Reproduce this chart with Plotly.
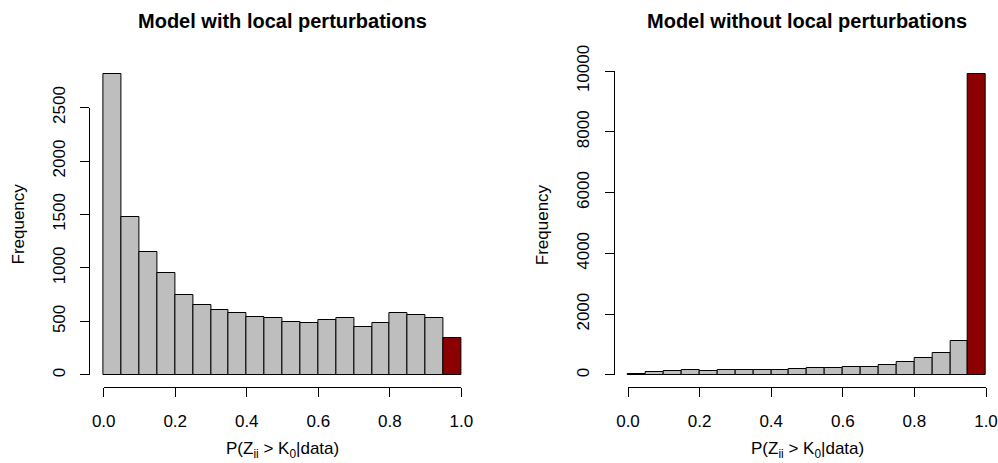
import plotly.graph_objects as go

# ---- data ----
bin_edges = [i * 0.05 for i in range(21)]
counts_with = [2813, 1477, 1150, 956, 745, 651, 607, 582, 545, 536,
               498, 483, 514, 533, 451, 489, 582, 558, 530, 349]
counts_without = [25, 108, 132, 155, 132, 155, 155, 155, 155, 187,
                  220, 220, 253, 274, 318, 428, 570, 724, 1118, 9901]
x_ticks = [0.0, 0.2, 0.4, 0.6, 0.8, 1.0]
y_ticks_with = [0, 500, 1000, 1500, 2000, 2500]
y_ticks_without = [0, 2000, 4000, 6000, 8000, 10000]
titles = ["Model with local perturbations", "Model without local perturbations"]
xlabel = "P(Z<sub>ii</sub> &gt; K<sub>0</sub>|data)"
ylabel = "Frequency"

# ---- layout geometry (pixels) ----
W, H = 998, 463
FONT = "Liberation Sans, Arial, Helvetica, sans-serif"
GRAY = "#BEBEBE"
RED = "#8B0000"
TICK_SIZE = 17
TITLE_SIZE = 20

panels = [
    dict(counts=counts_with, yticks=y_ticks_with, px0=103.7, px1=461.3, ylab_x=18, title=titles[0]),
    dict(counts=counts_without, yticks=y_ticks_without, px0=628.0, px1=986.0, ylab_x=542.7, title=titles[1]),
]
TOP, BOT = 62.0, 387.0


def fx(p):
    return p / W


def fy(p):
    return 1 - p / H


fig = go.Figure()
layout = dict(
    width=W, height=H, margin=dict(l=0, r=0, t=0, b=0, pad=0, autoexpand=False),
    paper_bgcolor="white", plot_bgcolor="rgba(0,0,0,0)",
    showlegend=False, bargap=0,
    font=dict(family=FONT, size=TICK_SIZE, color="black"),
    annotations=[],
)

centers = [(bin_edges[i] + bin_edges[i + 1]) / 2 for i in range(len(bin_edges) - 1)]
widths = [bin_edges[i + 1] - bin_edges[i] for i in range(len(bin_edges) - 1)]

for k, p in enumerate(panels):
    n = k + 1
    dax = "" if n == 1 else str(n)
    sax = str(n + 2)
    counts = p["counts"]
    colors = [GRAY] * (len(counts) - 1) + [RED]

    fig.add_trace(go.Bar(
        x=centers, y=counts, width=widths,
        marker=dict(color=colors, line=dict(color="black", width=1)),
        xaxis="x" + dax, yaxis="y" + dax, hoverinfo="x+y",
    ))
    # invisible trace to host the R-style detached axes
    fig.add_trace(go.Scatter(x=[None], y=[None], mode="markers",
                             xaxis="x" + sax, yaxis="y" + sax, hoverinfo="skip"))

    scale = p["px1"] - p["px0"]
    L = p["px0"] - 0.04 * scale
    R = min(p["px1"] + 0.04 * scale, W)
    xr = [(L - p["px0"]) / scale, (R - p["px0"]) / scale]
    ymax = max(counts)
    ylo, yhi = -0.04 * ymax, 1.04 * ymax

    def ypix(v):
        return BOT - (v - ylo) / (yhi - ylo) * (BOT - TOP)

    hidden = dict(visible=False, showticklabels=False, fixedrange=True, automargin=False)
    layout["xaxis" + dax] = dict(domain=[fx(L), fx(R)], range=xr, anchor="y" + dax, **hidden)
    layout["yaxis" + dax] = dict(domain=[fy(BOT), fy(TOP)], range=[ylo, yhi], anchor="x" + dax, **hidden)

    # detached axes (R base-graphics style)
    layout["xaxis" + sax] = dict(
        domain=[fx(p["px0"]), fx(p["px1"])], range=[x_ticks[0], x_ticks[-1]],
        anchor="free", position=fy(BOT - 0.3),
        showline=True, linecolor="black", linewidth=1,
        ticks="outside", ticklen=9, tickcolor="black", tickwidth=1,
        tickvals=x_ticks, ticktext=["%.1f" % v for v in x_ticks],
        ticklabelstandoff=10, automargin=False,
        showgrid=False, zeroline=False, fixedrange=True,
        tickfont=dict(size=TICK_SIZE, family=FONT, color="black"),
    )
    layout["yaxis" + sax] = dict(
        domain=[fy(ypix(p["yticks"][0])), fy(ypix(p["yticks"][-1]))],
        range=[p["yticks"][0], p["yticks"][-1]],
        anchor="free", position=fx(L),
        showline=True, linecolor="black", linewidth=1,
        ticks="outside", ticklen=9, tickcolor="black", tickwidth=1,
        tickvals=p["yticks"], ticktext=[str(v) for v in p["yticks"]],
        tickangle=-90, ticklabelstandoff=9, automargin=False,
        showgrid=False, zeroline=False, fixedrange=True,
        tickfont=dict(size=TICK_SIZE, family=FONT, color="black"),
    )

    cx = (p["px0"] + p["px1"]) / 2
    layout["annotations"] += [
        dict(text="<b>" + p["title"] + "</b>", x=fx(cx), y=fy(21), xref="paper", yref="paper",
             xanchor="center", yanchor="middle", showarrow=False,
             font=dict(size=TITLE_SIZE, family=FONT, color="black")),
        dict(text=xlabel, x=fx(cx), y=fy(463), xref="paper", yref="paper",
             xanchor="center", yanchor="bottom", showarrow=False,
             font=dict(size=TICK_SIZE, family=FONT, color="black")),
        dict(text=ylabel, x=fx(p["ylab_x"]), y=fy((TOP + BOT) / 2), xref="paper", yref="paper",
             xanchor="center", yanchor="middle", textangle=-90, showarrow=False,
             font=dict(size=TICK_SIZE, family=FONT, color="black")),
    ]

fig.update_layout(**layout)
fig.write_html("out.html")
